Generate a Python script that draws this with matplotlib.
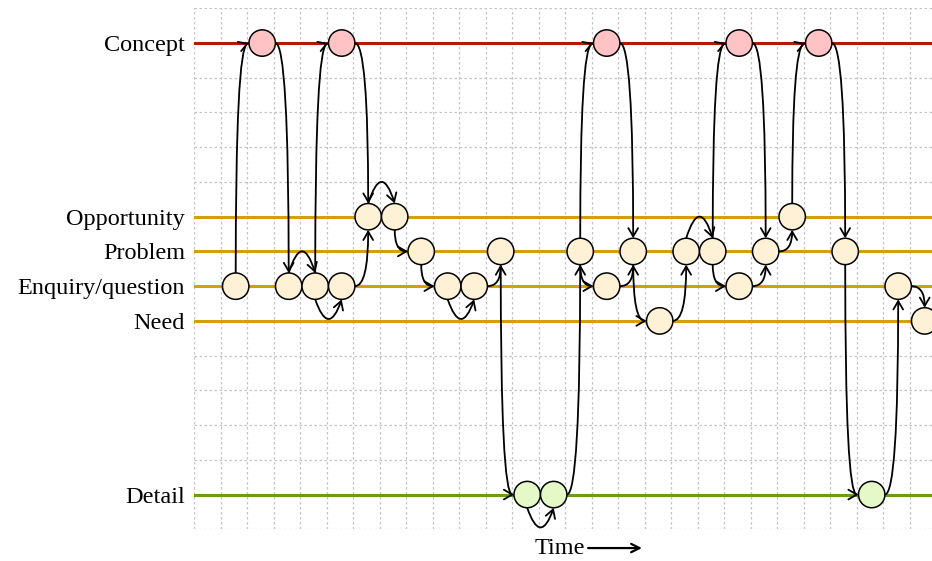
import numpy as np
import matplotlib
matplotlib.use("Agg")
import matplotlib.pyplot as plt
from matplotlib.transforms import offset_copy

# ---------------- data ----------------
level_names = ["Concept", "Opportunity", "Problem", "Enquiry/question", "Need", "Detail"]
level_rows = [14, 9, 8, 7, 6, 1]          # row on the 15-row grid (bottom = 0)
level_line_colors = ["#b3190b", "#d2a008", "#d2a008", "#d2a008", "#d2a008", "#6b9c16"]
level_fill_colors = ["#ffc3c5", "#fff1d5", "#fff1d5", "#fff1d5", "#fff1d5", "#e5f8c7"]

# coded events: time step and level
event_steps = [0, 1, 2, 3, 4, 4, 5, 6, 7, 8, 9, 10, 11, 12, 13, 14, 14, 15,
               16, 17, 18, 19, 19, 20, 21, 22, 23, 24, 25, 26]
event_levels = ["Enquiry/question", "Concept", "Enquiry/question", "Enquiry/question",
                "Concept", "Enquiry/question", "Opportunity", "Opportunity", "Problem",
                "Enquiry/question", "Enquiry/question", "Problem", "Detail", "Detail",
                "Problem", "Concept", "Enquiry/question", "Problem", "Need", "Problem",
                "Problem", "Concept", "Enquiry/question", "Problem", "Opportunity",
                "Concept", "Problem", "Detail", "Enquiry/question", "Need"]

# transitions between events (indices into the event lists) and their routing
link_from = [0, 1, 2, 3, 3, 4, 5, 6, 7, 8, 9, 10, 11, 12, 13, 14, 14, 15, 16,
             17, 18, 19, 20, 20, 21, 22, 23, 24, 25, 26, 27, 28]
link_to = [1, 2, 3, 4, 5, 6, 6, 7, 8, 9, 10, 11, 12, 13, 14, 15, 16, 17, 17,
           18, 19, 20, 21, 22, 23, 23, 24, 25, 26, 27, 28, 29]
link_route = ["vh", "hv", "over", "vh", "under", "hv", "hv", "over", "vh", "vh",
              "under", "hv", "vh", "under", "hv", "vh", "vh", "hv", "hv", "vh",
              "hv", "over", "vh", "vh", "hv", "hv", "hv", "vh", "hv", "vh", "hv", "hv"]

# ---------------- figure ----------------
W, H = 932, 561
fig = plt.figure(figsize=(W / 100, H / 100), dpi=100)
left, right, top, bottom = 194, 932, 8.3, 529.3
ax = fig.add_axes([left / W, (H - bottom) / H, (right - left) / W, (bottom - top) / H])

cell = 26.5
x0 = -(235.7 - left) / cell
ax.set_xlim(x0, x0 + (right - left) / cell)
ax.set_ylim(0, 15)

for s in ax.spines.values():
    s.set_visible(False)

ax.set_xticks([])
ax.set_xticks(x0 + np.arange(0, 28), minor=True)
ax.set_yticks(np.arange(0, 16), minor=True)
ax.set_yticks(level_rows)
ax.set_yticklabels(level_names, fontfamily="Liberation Serif", fontsize=17.5)
ax.tick_params(which="both", length=0)
ax.tick_params(axis="y", pad=6.5)
ax.set_axisbelow(True)
ax.grid(which="minor", color="#c4c4c4", lw=0.9, linestyle=(0, (2.0, 2.0)))
ax.grid(which="major", visible=False)

for row, col in zip(level_rows, level_line_colors):
    ax.axhline(row, color=col, lw=2.2, zorder=1)

row_of = dict(zip(level_names, level_rows))
fill_of = dict(zip(level_names, level_fill_colors))
ev_y = [row_of[l] for l in event_levels]
ev_c = [fill_of[l] for l in event_levels]

r_pt = 9.5
ax.scatter(event_steps, ev_y, s=(2 * r_pt) ** 2, c=ev_c, edgecolors="black",
           linewidths=1.1, zorder=5, clip_on=True)


def anchor(dx, dy):
    return offset_copy(ax.transData, fig=fig, x=dx, y=dy, units="points")


for a, b, route in zip(link_from, link_to, link_route):
    xa, ya = event_steps[a], ev_y[a]
    xb, yb = event_steps[b], ev_y[b]
    up = yb > ya
    if route == "vh":
        sa = (0, r_pt if up else -r_pt)
        sb = (-r_pt, 0)
        cs = "angle3,angleA=90,angleB=%d" % (20 if yb == 14 else 0)
    elif route == "hv":
        sa = (r_pt, 0)
        sb = (0, -r_pt if up else r_pt)
        cs = "angle3,angleA=0,angleB=90"
    elif route == "over":
        sa = (0, r_pt)
        sb = (0, r_pt)
        cs = "arc3,rad=-1.6"
    else:
        sa = (0, -r_pt)
        sb = (0, -r_pt)
        cs = "arc3,rad=1.45"
    ax.annotate("", xy=(xb, yb), xycoords=anchor(*sb),
                xytext=(xa, ya), textcoords=anchor(*sa),
                arrowprops=dict(arrowstyle="->,head_length=0.6,head_width=0.35",
                                connectionstyle=cs, shrinkA=0, shrinkB=0,
                                lw=1.3, color="black", mutation_scale=10),
                zorder=4, annotation_clip=False)

# time label with arrow
ax.text(0.496, -0.037, "Time", transform=ax.transAxes, ha="center", va="center",
        fontfamily="Liberation Serif", fontsize=17.5)
ax.annotate("", xy=(0.607, -0.036), xycoords="axes fraction",
            xytext=(0.534, -0.036), textcoords="axes fraction",
            arrowprops=dict(arrowstyle="->,head_length=0.6,head_width=0.3",
                            lw=1.6, color="black", shrinkA=0, shrinkB=0,
                            mutation_scale=10),
            annotation_clip=False)

fig.savefig("out.png", dpi=100)
